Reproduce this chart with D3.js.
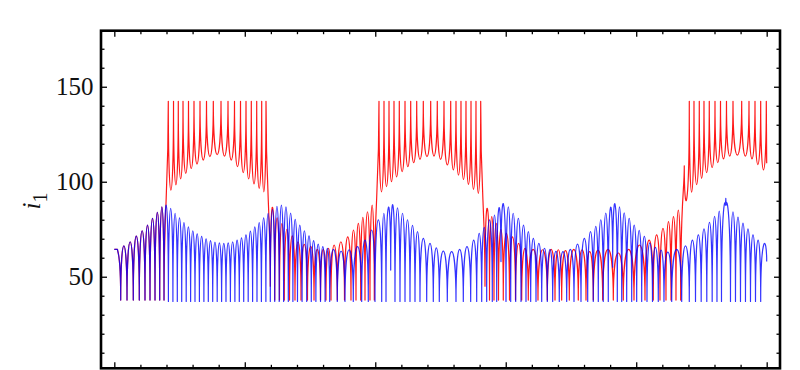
<!DOCTYPE html>
<html><head><meta charset="utf-8">
<script src="https://cdn.jsdelivr.net/npm/d3@7"></script>
<style>body{margin:0;background:#fff;} svg{display:block;}</style>
</head><body>
<svg id="chart" width="800" height="370"></svg>
<script>
// ---- data (time axis 0..250, current i1) ----
const xMajorTicks = [0, 50, 100, 150, 200, 250];
const xMinorTicks = [10,20,30,40,60,70,80,90,110,120,130,140,160,170,180,190,210,220,230,240];
const yMajorTicks = [50, 100, 150];
const yMinorTicks = [10,20,30,40,60,70,80,90,110,120,130,140,160,170];
const yTickLabels = ["50", "100", "150"];
const yLabelMain = "i";
const yLabelSub = "1";

// blue trace: knot times, knot values (dips / extremes), arc level between knots
const blueT = [0, 1.2, 2.45, 4.87, 7.28, 9.58, 11.76, 13.68, 15.60, 17.40, 19.05,
  20.73, 22.46, 24.14, 25.83, 27.55, 29.24, 30.92, 32.61, 34.33, 36.02,
  37.71, 39.43, 41.12, 42.80, 44.49, 46.21, 47.90, 49.59, 51.31, 53.00,
  54.68, 56.37, 58.09, 59.78, 61.47, 63.19, 64.88, 66.68, 68.44, 70.20,
  71.96, 73.73, 75.49, 77.25, 79.02, 80.78, 82.54, 85.45, 88.40, 91.58,
  94.80, 97.33, 99.90, 102.47, 104.12, 105.92, 107.56, 109.48, 111.40, 113.31,
  115.23, 117.14, 119.71, 122.24, 124.54, 127.61, 130.94, 133.74, 136.57, 138.87,
  140.79, 142.70, 144.85, 146.54, 148.18, 150.10, 151.90, 153.82, 155.85, 157.76,
  159.56, 161.60, 163.78, 165.93, 167.99, 170.52, 173.36, 176.16, 178.84, 181.41,
  183.55, 185.47, 187.38, 189.30, 190.99, 192.75, 194.44, 196.35, 198.27, 200.18,
  202.10, 204.13, 206.24, 208.46, 210.64, 213.60, 217.43, 220.34, 222.72, 224.90,
  227.05, 229.11, 230.95, 232.68, 234.18, 234.33, 234.48, 236.13, 238.04, 239.96,
  241.87, 243.79, 245.71, 247.70, 250.0];
const blueV = [64.4, 64.4, 37.7, 37.7, 37.7, 37.7, 37.7, 37.7, 37.7, 37.7, 37.7,
  37, 37, 37, 37, 37, 37, 37, 37, 37, 37,
  37, 37, 37, 37, 37, 37, 37, 37, 37, 37,
  37, 37, 37, 37, 37, 37, 37, 37, 37, 37,
  37, 37, 37, 37, 37, 37, 37, 37, 37, 37,
  37, 37, 37, 37, 37, 53.5, 37, 37, 37, 37,
  37, 37, 37, 37, 37, 37, 37, 37, 37, 37,
  37, 37, 37, 37, 58, 37, 37, 37, 37, 37,
  37, 37, 37, 37, 37, 37, 37, 37, 37, 37,
  37, 37, 37, 37, 55, 37, 37, 37, 37, 37,
  37, 37, 37, 37, 37, 37, 37, 37, 37, 37,
  37, 37, 37, 37, 87.7, 91.2, 87.7, 37, 37, 37,
  37, 37, 37, 37, 58];
const blueLevel = [64.4, 60.0, 66.2, 68.4, 71.4, 74.2, 77.2, 80.7, 83.9, 86.8,
  87.7, 86.0, 83.4, 81.0, 78.5, 76.2, 74.2, 72.6, 71.2, 70.0,
  69.0, 68.2, 67.8, 67.6, 67.8, 68.4, 69.3, 70.5, 72.0, 74.0,
  76.2, 78.5, 81.0, 83.4, 85.5, 87.0, 87.7, 86.8, 83.5, 80.2,
  77.2, 74.2, 71.5, 69.0, 67.2, 65.8, 64.9, 64.4, 63.4, 64.2,
  65.8, 69.3, 74.6, 79.9, 83.4, 86.4, 87.7, 86.2, 83.4, 80.0,
  77.0, 73.7, 70.2, 67.6, 65.2, 63.5, 63.2, 64.4, 65.8, 69.3,
  72.8, 76.0, 79.9, 82.5, 86.0, 88.1, 86.8, 83.4, 80.7, 77.2,
  73.7, 70.2, 67.6, 65.0, 64.4, 63.3, 63.2, 64.4, 67.2, 70.2,
  73.7, 76.5, 80.0, 83.5, 86.3, 88.2, 86.8, 83.6, 80.7, 77.2,
  74.4, 71.2, 67.8, 65.5, 64.0, 63.0, 64.4, 66.2, 69.3, 72.0,
  75.2, 78.6, 81.8, 84.5, 84.0, 89.5, 89.5, 84.0, 84.2, 81.4,
  78.2, 75.2, 72.0, 69.3, 66.7];

// red trace
const redT = [0, 1.2, 2.45, 4.87, 7.28, 9.58, 11.76, 13.68, 15.60, 17.40, 19.05,
  20.69, 22.69, 24.52, 26.33, 28.43, 30.54, 32.84, 35.33, 37.94, 40.89,
  43.57, 46.06, 48.36, 50.47, 52.50, 54.57, 56.48, 58.13,
  59.78, 61.47, 63.30, 65.14, 67.14, 69.24, 71.54, 74.03, 76.53, 79.02,
  81.12, 83.04, 85.45, 88.21, 90.70, 92.62, 94.42, 96.07, 97.98, 99.63,
  101.43, 103.35, 105.27, 107.18, 109.21, 111.40, 113.58, 115.88, 118.41, 121.24,
  123.77, 126.34, 128.91, 130.94, 132.85, 134.77, 136.69, 138.60, 140.40,
  142.05, 143.78, 145.50, 147.23, 149.06, 151.44, 153.74, 156.12, 158.64, 162.36,
  165.93, 168.88, 171.44, 174.36, 177.80, 180.76, 183.55, 187.15, 191.22, 195.05,
  199.15, 203.36, 206.54, 209.11, 211.41, 213.33, 215.24, 217.04, 218.42,
  220.34, 222.14, 224.17, 225.97, 228.00, 230.19, 232.30, 234.59, 237.09, 240.42,
  243.22, 245.52, 247.70, 249.85, 250.0];
const redV = [64.4, 64.4, 37.7, 37.7, 37.7, 37.7, 37.7, 37.7, 37.7, 37.7, 37.7,
  142.3, 142.3, 142.3, 142.3, 142.3, 142.3, 142.3, 142.3, 142.3, 142.3,
  142.3, 142.3, 142.3, 142.3, 142.3, 142.3, 142.3, 142.3,
  45, 37.7, 37.7, 37.7, 37.7, 37.7, 37.7, 37.7, 37.7, 37.7,
  37.7, 37.7, 37.7, 37.7, 37.7, 37.7, 37.7, 37.7, 37.7, 37.7,
  142.3, 142.3, 142.3, 142.3, 142.3, 142.3, 142.3, 142.3, 142.3, 142.3,
  142.3, 142.3, 142.3, 142.3, 142.3, 142.3, 142.3, 142.3, 142.3,
  45, 37.7, 37.7, 37.7, 37.7, 37.7, 37.7, 37.7, 37.7, 37.7,
  37.7, 37.7, 37.7, 37.7, 37.7, 37.7, 37.7, 37.7, 37.7, 37.7,
  37.7, 37.7, 37.7, 37.7, 37.7, 37.7, 37.7, 37.7, 108.4,
  142.3, 142.3, 142.3, 142.3, 142.3, 142.3, 142.3, 142.3, 142.3, 142.3,
  142.3, 142.3, 142.3, 142.3, 109.7];
const redLevel = [64.4, 60.0, 66.2, 68.4, 71.4, 74.2, 77.2, 80.7, 83.9, 86.8,
  91.0,
  95.6, 98.3, 101.5, 104.4, 107.0, 109.3, 111.4, 113.2, 114.2, 113.5,
  111.4, 108.0, 104.8, 101.5, 98.8, 96.5, 94.7,
  91.5,
  86.5, 81.0, 78.0, 75.0, 71.5, 68.4, 67.0, 66.0, 64.4, 64.4,
  65.0, 66.7, 68.4, 71.0, 74.6, 78.1, 81.2, 84.2, 87.7,
  91.2,
  94.7, 97.4, 100.0, 102.6, 105.3, 107.9, 110.0, 111.8, 113.2, 113.5,
  111.8, 108.8, 106.2, 103.5, 101.2, 98.6, 96.0, 93.9,
  91.5,
  86.0, 81.6, 78.1, 75.0, 72.8, 71.0, 67.6, 64.9, 64.4, 64.2,
  64.4, 64.2, 63.7, 64.4, 64.2, 63.2, 64.0, 64.4, 62.5, 64.4,
  66.7, 69.3, 72.0, 75.5, 79.0, 81.6, 85.1,
  88.3,
  91.2,
  94.5, 98.5, 101.8, 104.8, 107.5, 110.0, 112.0, 113.5, 114.0, 113.5,
  112.0, 109.0, 106.2,
  126.0];

// ---- layout ----
const plot = {left: 101, right: 780, top: 30.7, bottom: 368.3};
const svg = d3.select("#chart");
const x = d3.scaleLinear().domain([-5.1, 255.1]).range([plot.left, plot.right]);
const y = d3.scaleLinear().domain([1.8, 179.5]).range([plot.bottom, plot.top]);

svg.append("defs").append("clipPath").attr("id", "clip")
  .append("rect").attr("x", plot.left).attr("y", plot.top)
  .attr("width", plot.right - plot.left).attr("height", plot.bottom - plot.top);

function wave(T, V, L) {
  const p = d3.path();
  p.moveTo(x(T[0]), y(V[0]));
  for (let i = 1; i < T.length; i++) {
    const c = (8 * L[i - 1] - V[i - 1] - V[i]) / 6;
    p.bezierCurveTo(x(T[i - 1]), y(c), x(T[i]), y(c), x(T[i]), y(V[i]));
  }
  return p.toString();
}

const g = svg.append("g").attr("clip-path", "url(#clip)");
g.append("path").attr("d", wave(redT, redV, redLevel))
  .attr("fill", "none").attr("stroke", "#ff0000").attr("stroke-width", 1.2)
  .attr("stroke-opacity", 0.9).attr("stroke-linejoin", "round");
g.append("path").attr("d", wave(blueT, blueV, blueLevel))
  .attr("fill", "none").attr("stroke", "#0000ff").attr("stroke-width", 1.2)
  .attr("stroke-opacity", 0.8).attr("stroke-linejoin", "round");

// ---- axes (ticks inward) ----
const fontFam = "'Liberation Serif', 'Times New Roman', serif";
function styleAxis(sel) {
  sel.select(".domain").remove();
  sel.selectAll(".tick line").attr("stroke", "#000").attr("stroke-width", 1.3);
}
const majorLen = 6, minorLen = 3.5;
svg.append("g").attr("transform", `translate(0,${plot.bottom})`)
  .call(d3.axisBottom(x).tickValues(xMajorTicks).tickSizeInner(-majorLen).tickSizeOuter(0).tickFormat(""))
  .call(styleAxis);
svg.append("g").attr("transform", `translate(0,${plot.bottom})`)
  .call(d3.axisBottom(x).tickValues(xMinorTicks).tickSizeInner(-minorLen).tickSizeOuter(0).tickFormat(""))
  .call(styleAxis);
svg.append("g").attr("transform", `translate(0,${plot.top})`)
  .call(d3.axisTop(x).tickValues(xMajorTicks).tickSizeInner(-majorLen).tickSizeOuter(0).tickFormat(""))
  .call(styleAxis);
svg.append("g").attr("transform", `translate(0,${plot.top})`)
  .call(d3.axisTop(x).tickValues(xMinorTicks).tickSizeInner(-minorLen).tickSizeOuter(0).tickFormat(""))
  .call(styleAxis);
svg.append("g").attr("transform", `translate(${plot.right},0)`)
  .call(d3.axisRight(y).tickValues(yMajorTicks).tickSizeInner(-majorLen).tickSizeOuter(0).tickFormat(""))
  .call(styleAxis);
svg.append("g").attr("transform", `translate(${plot.right},0)`)
  .call(d3.axisRight(y).tickValues(yMinorTicks).tickSizeInner(-minorLen).tickSizeOuter(0).tickFormat(""))
  .call(styleAxis);
svg.append("g").attr("transform", `translate(${plot.left},0)`)
  .call(d3.axisLeft(y).tickValues(yMinorTicks).tickSizeInner(-minorLen).tickSizeOuter(0).tickFormat(""))
  .call(styleAxis);
const yAx = svg.append("g").attr("transform", `translate(${plot.left},0)`)
  .call(d3.axisLeft(y).tickValues(yMajorTicks).tickSizeInner(-majorLen).tickSizeOuter(0)
    .tickPadding(7.5).tickFormat((d, i) => yTickLabels[i]))
  .call(styleAxis);
yAx.attr("font-size", null).attr("font-family", null);
yAx.selectAll(".tick text").attr("fill", "#111").attr("dy", "0.33em")
  .attr("font-family", fontFam).attr("font-size", 25)
  .style("font-family", fontFam).style("font-size", "25px");

// frame
svg.append("rect").attr("x", plot.left).attr("y", plot.top)
  .attr("width", plot.right - plot.left).attr("height", plot.bottom - plot.top)
  .attr("fill", "none").attr("stroke", "#000").attr("stroke-width", 2.6);

// y label
const lab = svg.append("text").attr("transform", "translate(40,201) rotate(-90)")
  .attr("text-anchor", "middle").attr("fill", "#111")
  .style("font-family", fontFam).style("font-size", "25px");
lab.append("tspan").style("font-style", "italic").text(yLabelMain);
lab.append("tspan").attr("dy", 7).style("font-size", "20px").text(yLabelSub);
</script>
</body></html>
